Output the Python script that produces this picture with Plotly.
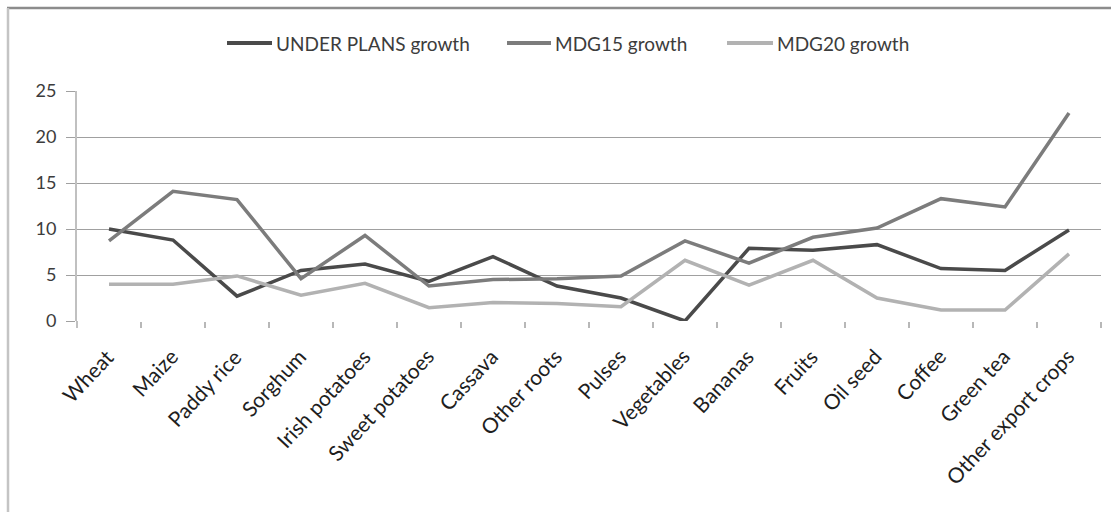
import plotly.graph_objects as go

# Crop categories along the x axis
crops = ["Wheat", "Maize", "Paddy rice", "Sorghum", "Irish potatoes",
         "Sweet potatoes", "Cassava", "Other roots", "Pulses", "Vegetables",
         "Bananas", "Fruits", "Oil seed", "Coffee", "Green tea",
         "Other export crops"]

# Growth rates per scenario
under_plans = [10.0, 8.8, 2.7, 5.5, 6.2, 4.3, 7.0, 3.8, 2.5, 0.0,
               7.9, 7.7, 8.3, 5.7, 5.5, 9.9]
mdg15 = [8.7, 14.1, 13.2, 4.6, 9.3, 3.8, 4.5, 4.6, 4.9, 8.7,
         6.3, 9.1, 10.1, 13.3, 12.4, 22.6]
mdg20 = [4.0, 4.0, 4.9, 2.8, 4.1, 1.45, 2.0, 1.9, 1.55, 6.6,
         3.9, 6.6, 2.5, 1.2, 1.2, 7.3]

series_names = ["UNDER PLANS growth", "MDG15 growth", "MDG20 growth"]
series_colors = ["#4a4a4a", "#7c7c7c", "#b2b2b2"]

y_ticks = [0, 5, 10, 15, 20, 25]

W, H = 1111, 512
L, R, T, B = 77, 10, 91, 191
PW, PH = W - L - R, H - T - B


def px_x(p):
    return (p - L) / PW


def px_y(q):
    return (H - B - q) / PH


FONT = "Lato"
TXT = "#3c3c3c"

fig = go.Figure()
for name, vals, col in zip(series_names, [under_plans, mdg15, mdg20],
                           series_colors):
    fig.add_trace(go.Scatter(x=crops, y=vals, name=name, mode="lines",
                             line=dict(color=col, width=3.5),
                             showlegend=False))

fig.update_layout(
    width=W, height=H,
    margin=dict(l=L, r=R, t=T, b=B, pad=0),
    paper_bgcolor="white", plot_bgcolor="white",
    font=dict(family=FONT, size=18, color=TXT),
    showlegend=False,
    xaxis=dict(type="category", tickson="boundaries", ticks="outside",
               ticklen=6, tickcolor="#b8b8b8", tickwidth=1.5,
               showgrid=False, showline=False, zeroline=False,
               showticklabels=False,
               range=[-0.5, len(crops) - 0.5]),
    yaxis=dict(range=[0, 25], tickvals=y_ticks, ticks="outside",
               ticklen=9, tickcolor="#a0a0a0", tickwidth=1.2,
               showgrid=True, gridcolor="#a0a0a0", gridwidth=1.2,
               showline=True, linecolor="#c0c0c0", linewidth=2,
               zeroline=False, tickfont=dict(family=FONT, size=18, color=TXT),
               ticklabelstandoff=6),
)

# Rotated category labels below the axis
for crop in crops:
    fig.add_annotation(x=crop, y=0, xref="x", yref="y", text=crop,
                       showarrow=False, textangle=-47,
                       xanchor="right", yanchor="top",
                       xshift=12, yshift=-20,
                       font=dict(family=FONT, size=21, color="#1e1e1e"))

# Legend row across the top
legend_pos = [(227, 272), (507, 551), (727, 773)]
for name, col, (x0, x1) in zip(series_names, series_colors, legend_pos):
    fig.add_shape(type="line", xref="paper", yref="paper",
                  x0=px_x(x0), x1=px_x(x1), y0=px_y(43), y1=px_y(43),
                  line=dict(color=col, width=4))
    fig.add_annotation(x=px_x(x1 + 2), y=px_y(43), xref="paper", yref="paper",
                       text=name, showarrow=False, xanchor="left",
                       yanchor="middle",
                       font=dict(family=FONT, size=19, color=TXT))

# Chart frame (top and left edges)
fig.add_shape(type="line", xref="paper", yref="paper",
              x0=px_x(7), x1=px_x(W + 5), y0=px_y(8), y1=px_y(8),
              line=dict(color="#8c8c8c", width=2.5))
fig.add_shape(type="line", xref="paper", yref="paper",
              x0=px_x(8), x1=px_x(8), y0=px_y(8), y1=px_y(H + 5),
              line=dict(color="#c4c4c4", width=2.5))
# y axis line continues through the category tick band
fig.add_shape(type="line", xref="paper", yref="paper",
              x0=px_x(77), x1=px_x(77), y0=px_y(321), y1=px_y(328),
              line=dict(color="#c0c0c0", width=2))

fig.write_html("out.html")
